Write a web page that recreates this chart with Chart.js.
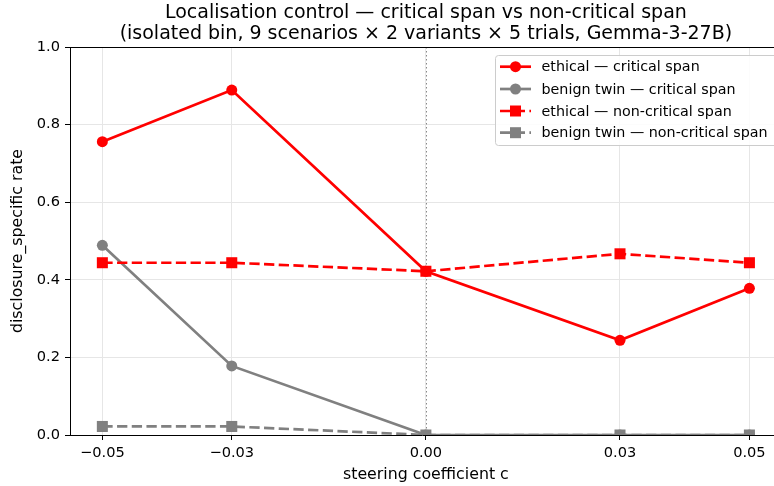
<!DOCTYPE html>
<html>
<head>
<meta charset="UTF-8">
<title>Localisation control</title>
<script src="https://cdn.jsdelivr.net/npm/chart.js"></script>
<style>
    html, body { margin: 0; padding: 0; overflow: hidden; background: white; }
</style>
</head>
<body>
<canvas id="chart" width="774" height="486"></canvas>
<script>
    // steering coefficients (x) and rates per series
    const coefs = [-0.05, -0.03, 0.00, 0.03, 0.05];
    const ethicalCritical = [0.756, 0.889, 0.422, 0.244, 0.378];
    const benignCritical = [0.489, 0.178, 0.0, 0.0, 0.0];
    const ethicalNonCritical = [0.444, 0.444, 0.422, 0.467, 0.444];
    const benignNonCritical = [0.022, 0.022, 0.0, 0.0, 0.0];

    const seriesNames = [
        "ethical — critical span",
        "benign twin — critical span",
        "ethical — non-critical span",
        "benign twin — non-critical span"
    ];
    const titleLines = [
        "Localisation control — critical span vs non-critical span",
        "(isolated bin, 9 scenarios × 2 variants × 5 trials, Gemma-3-27B)"
    ];
    const xLabel = "steering coefficient c";
    const yLabel = "disclosure_specific rate";

    const FONT = "'DejaVu Sans', sans-serif";
    const RED = "#ff0000";
    const GREY = "#808080";
    const DASH = [10.3, 4.4];
    const LW = 2.7;

    function pts(ys) {
        return coefs.map((c, i) => ({x: c, y: ys[i]}));
    }

    function fmt(v) {
        const s = Math.abs(v).toFixed(2);
        return (v < -1e-9 ? "\u2212" : "") + s;
    }

    const styles = [
        {color: RED, dash: [], shape: "circle", radius: 5.5},
        {color: GREY, dash: [], shape: "circle", radius: 5.5},
        {color: RED, dash: DASH, shape: "rect", radius: 7.8},
        {color: GREY, dash: DASH, shape: "rect", radius: 7.8}
    ];
    const allData = [ethicalCritical, benignCritical, ethicalNonCritical, benignNonCritical];

    const datasets = allData.map((ys, i) => ({
        label: seriesNames[i],
        data: pts(ys),
        borderColor: styles[i].color,
        backgroundColor: styles[i].color,
        borderWidth: LW,
        borderDash: styles[i].dash,
        pointStyle: styles[i].shape,
        pointRadius: styles[i].radius,
        pointBorderWidth: 0,
        pointHoverRadius: styles[i].radius,
        tension: 0,
        clip: 0,
        order: 3 - i
    }));

    const decor = {
        id: "decor",
        beforeDatasetsDraw(chart) {
            const {ctx, chartArea: a, scales} = chart;
            const x0 = scales.x.getPixelForValue(0);
            ctx.save();
            ctx.strokeStyle = "#888888";
            ctx.lineWidth = 1;
            ctx.setLineDash([1.5, 2.5]);
            ctx.beginPath();
            ctx.moveTo(Math.round(x0) + 0.5, a.top);
            ctx.lineTo(Math.round(x0) + 0.5, a.bottom);
            ctx.stroke();
            ctx.restore();
        },
        afterDraw(chart) {
            const {ctx, chartArea: a, scales} = chart;
            ctx.save();
            // top spine
            ctx.strokeStyle = "#000";
            ctx.lineWidth = 1;
            ctx.beginPath();
            ctx.moveTo(a.left, a.top + 0.5);
            ctx.lineTo(a.right, a.top + 0.5);
            ctx.stroke();

            // title, centred on the full axes (which run past the canvas edge)
            const cx = (scales.x.getPixelForValue(-0.055) + scales.x.getPixelForValue(0.055)) / 2;
            ctx.fillStyle = "#000";
            ctx.textAlign = "center";
            ctx.textBaseline = "alphabetic";
            ctx.font = "19px " + FONT;
            ctx.fillText(titleLines[0], cx, 17.5);
            ctx.fillText(titleLines[1], cx, 39);

            // axis labels
            ctx.textBaseline = "middle";
            ctx.font = "15.8px " + FONT;
            ctx.fillText(xLabel, cx, 475);
            ctx.save();
            ctx.translate(18, (a.top + a.bottom) / 2);
            ctx.rotate(-Math.PI / 2);
            ctx.fillText(yLabel, 0, 0);
            ctx.restore();

            // legend
            const bx = 495.5, by = 55.5, bw = 290, bh = 90;
            ctx.fillStyle = "rgba(255,255,255,0.85)";
            ctx.strokeStyle = "#cccccc";
            ctx.lineWidth = 1;
            ctx.beginPath();
            ctx.roundRect(bx, by, bw, bh, 3);
            ctx.fill();
            ctx.stroke();
            const rowY = [66.7, 89, 111, 132.7];
            ctx.textAlign = "left";
            ctx.font = "14.3px " + FONT;
            styles.forEach((st, i) => {
                const y = rowY[i];
                ctx.strokeStyle = st.color;
                ctx.fillStyle = st.color;
                ctx.lineWidth = LW;
                ctx.setLineDash(st.dash);
                ctx.beginPath();
                ctx.moveTo(500, y);
                ctx.lineTo(531, y);
                ctx.stroke();
                ctx.setLineDash([]);
                if (st.shape === "circle") {
                    ctx.beginPath();
                    ctx.arc(515.5, y, 5.5, 0, Math.PI * 2);
                    ctx.fill();
                } else {
                    ctx.fillRect(515.5 - 5.5, y - 5.5, 11, 11);
                }
                ctx.fillStyle = "#000";
                ctx.fillText(seriesNames[i], 541.5, y + 1);
            });
            ctx.restore();
        }
    };

    new Chart(document.getElementById("chart"), {
        type: "line",
        data: {datasets: datasets},
        options: {
            responsive: false,
            animation: false,
            devicePixelRatio: 1,
            layout: {autoPadding: false, padding: {left: 0, top: 47, right: 0, bottom: 0}},
            plugins: {
                legend: {display: false},
                title: {display: false},
                tooltip: {enabled: false}
            },
            scales: {
                x: {
                    type: "linear",
                    min: -0.055,
                    max: 0.0538,
                    afterBuildTicks: s => { s.ticks = coefs.map(v => ({value: v})); },
                    afterFit: s => {
                        s.height = 51;
                        s.paddingLeft = 0;
                        s.paddingRight = 0;
                    },
                    ticks: {
                        callback: v => fmt(v),
                        color: "#000",
                        font: {family: FONT, size: 14.6},
                        padding: 4,
                        maxRotation: 0,
                        autoSkip: false
                    },
                    grid: {color: "#e6e6e6", lineWidth: 1, tickLength: 5, tickColor: "#000"},
                    border: {color: "#000", width: 1}
                },
                y: {
                    min: 0,
                    max: 1,
                    afterFit: s => {
                        s.width = 70;
                        s.paddingTop = 0;
                        s.paddingBottom = 0;
                    },
                    ticks: {
                        stepSize: 0.2,
                        callback: v => v.toFixed(1),
                        color: "#000",
                        font: {family: FONT, size: 14.6},
                        padding: 5
                    },
                    grid: {color: "#e6e6e6", lineWidth: 1, tickLength: 5, tickColor: "#000"},
                    border: {color: "#000", width: 1}
                }
            }
        },
        plugins: [decor]
    });
</script>
</body>
</html>
